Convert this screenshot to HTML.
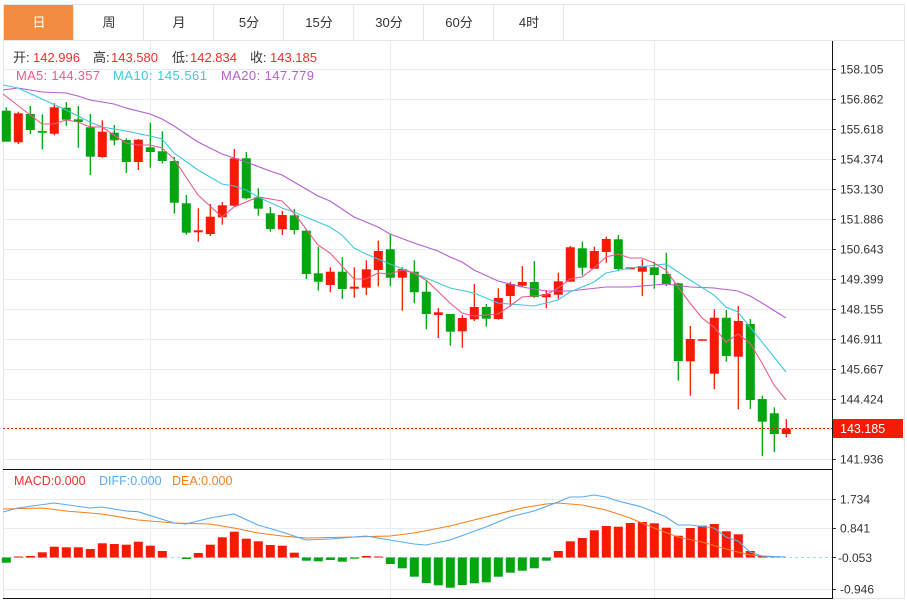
<!DOCTYPE html>
<html><head><meta charset="utf-8"><style>
body{margin:0;background:#fff;width:907px;height:600px;overflow:hidden;font-family:"Liberation Sans","Noto Sans CJK SC",sans-serif}
svg{position:absolute;left:0;top:0}
</style></head><body>
<svg id="s" width="907" height="600" xmlns="http://www.w3.org/2000/svg" font-family="Liberation Sans, Noto Sans CJK SC, sans-serif"></svg>
<script>
var s='';
s+='<rect x="3.5" y="4.5" width="901" height="594" fill="none" stroke="#e3e6ea"/>';
s+='<line x1="3" y1="40.5" x2="905" y2="40.5" stroke="#e3e6ea"/>';
var tabs=['日','周','月','5分','15分','30分','60分','4时'];
for(var i=0;i<8;i++){var x=4+i*70;
 if(i==0)s+='<rect x="4" y="5" width="69" height="35" fill="#f28c43"/>';
 s+='<line x1="'+(x+69.5)+'" y1="5" x2="'+(x+69.5)+'" y2="40" stroke="#e3e6ea"/>';
 s+='<text x="'+(x+35)+'" y="27" text-anchor="middle" font-size="13" fill="'+(i==0?'#fff':'#333')+'">'+tabs[i]+'</text>';}
var ticks=[[69,'158.105'],[99,'156.862'],[129,'155.618'],[159,'154.374'],[189,'153.130'],[219,'151.886'],[249,'150.643'],[279,'149.399'],[309,'148.155'],[339,'146.911'],[369,'145.667'],[399,'144.424'],[459,'141.936']];
ticks.forEach(function(t){s+='<line x1="3" y1="'+(t[0]+.5)+'" x2="832" y2="'+(t[0]+.5)+'" stroke="#e6ecf2"/><line x1="832" y1="'+(t[0]+.5)+'" x2="836" y2="'+(t[0]+.5)+'" stroke="#333"/><text x="840" y="'+(t[0]+4.5)+'" font-size="12" fill="#333">'+t[1]+'</text>';});
[[499,'1.734'],[528,'0.841'],[589,'-0.946']].forEach(function(t){s+='<line x1="3" y1="'+(t[0]+.5)+'" x2="832" y2="'+(t[0]+.5)+'" stroke="#e6ecf2"/><line x1="832" y1="'+(t[0]+.5)+'" x2="836" y2="'+(t[0]+.5)+'" stroke="#333"/><text x="840" y="'+(t[0]+4.5)+'" font-size="12" fill="#333">'+t[1]+'</text>';});
s+='<line x1="832" y1="557.5" x2="836" y2="557.5" stroke="#333"/><text x="838" y="562" font-size="12" fill="#333">-0.053</text>';
[150.5,390.5,654.5].forEach(function(x){s+='<line x1="'+x+'" y1="41" x2="'+x+'" y2="598" stroke="#e6ecf2"/>';});
s+='<line x1="3" y1="469.5" x2="832" y2="469.5" stroke="#111"/><line x1="3" y1="598.5" x2="832" y2="598.5" stroke="#111"/>';
s+='<line x1="832.5" y1="41" x2="832.5" y2="599" stroke="#111"/>';
var c=[[110.7,141.7,107.3,141.7,0],[113.3,142.3,111.7,144,1],[114,130,106,134,0],[131,132.7,114.3,149.3,0],[107.3,133.7,103.3,135.3,1],[107.7,119.7,102,125.7,0],[119.3,122,106,147.7,0],[127.3,156.7,114,175,0],[131.7,157,120.3,157.7,1],[132.7,140.3,125,145.3,0],
[140,162,138.3,173,0],[139.7,162,139,170,1],[147.3,152,122.7,167.7,0],[151.3,161,131.3,163.7,0],[161,202.7,157,213.7,0],[203.3,232.7,195,234.7,0],[230.3,232.3,208.3,241.7,1],[216.7,234,204,236,1],[205.3,217.3,202,224.7,1],[158.3,205.7,149,206.7,1],
[158.3,198.3,152,199.3,0],[197.3,208.7,188.3,215.7,0],[213.3,229,207,231.7,0],[215,229.3,211,235,1],[215.3,230,209,234.3,0],[230.7,274,230,279,0],[273.3,281.7,246.7,290.7,0],[271.7,285,267.3,292.3,1],[271.7,289,257.3,299,0],[286.7,288.7,267.3,297.7,1],
[269.3,287.7,260.3,295,1],[251,270,240.7,286.3,1],[249.3,277.7,233.7,286.3,0],[269,277.7,267.3,310.7,1],[271.7,292.3,260.3,303.3,0],[291.7,314,280,329.3,0],[312.3,315,308,338,1],[314,331.7,314,345.7,0],[318,331.3,315,347.7,1],[307,319.3,284,321,1],
[307,318.7,304,326.7,0],[298,319,288.3,319.7,1],[284,296,282,306.7,1],[282,285.7,266,286.7,1],[282,297,261,298,0],[294,297.3,290,308.3,1],[281.3,294.7,272.7,298.7,1],[247.3,281.7,246,281.7,1],[248.3,267.7,241.7,275.3,0],[251,268.7,246.7,268.7,1],
[239,252,236.7,262.7,1],[239.3,269,235,271.3,0],[267.3,269.3,267.3,269.3,1],[266,271.7,259.3,296,1],[267.3,275,261.7,288.7,0],[274,284,252.7,286,0],[283.3,361,282.7,380.7,0],[339,361.3,326,395.7,1],[339.3,340.7,339.3,340.7,1],[317.7,373.7,309.3,389.3,1],
[317.7,356,310,361.7,0],[321,356.7,306,409.3,1],[324,400,319,409,0],[399,421.7,395.7,456,0],[413.3,434,407.3,452,0],[428.7,434,419,437.3,1]];
var R='#f51a00',G='#00a60c';
c.forEach(function(d,i){var x=6.3+12*i,col=d[4]?R:G;
 s+='<line x1="'+x+'" y1="'+d[2]+'" x2="'+x+'" y2="'+d[3]+'" stroke="'+col+'" stroke-width="1.3"/>';
 s+='<rect x="'+(x-4.5)+'" y="'+d[0]+'" width="9" height="'+Math.max(1.5,d[1]-d[0])+'" fill="'+col+'"/>';});
function pl(p,col){return '<polyline fill="none" stroke="'+col+'" stroke-width="1.1" points="'+p+'"/>';}
s+=pl('3,90 18,88 42,92 66,93 78,96 90,100 114,104 126,108 150,114 162,119 174,126 198,142 222,154 246,162 270,171 282,175 294,182 318,196 330,201 354,217 378,227 390,234 414,243 438,251 450,257 462,262 474,270 498,281 522,287 546,291 570,291 606,287 630,287 666,284 690,287 714,288 738,291 750,296 762,303 786,318','#b55fcf');
s+=pl('3,85 18,88 42,99 66,110 90,122 102,127 126,131 150,136 162,139 174,153 198,170 222,184 234,186 246,190 258,197 282,208 294,212 330,227 342,235 354,248 366,254 390,264 414,273 438,283 450,288 474,293 498,303 534,306 558,300 570,292 594,282 606,273 630,268 666,264 690,280 714,295 726,307 738,312 750,327 786,372','#3fc8df');
s+=pl('3,94 42,124 54,124 66,120 78,122 90,127 102,127 126,143 138,145 150,145 162,148 174,159 198,195 222,217 234,207 258,197 282,201 294,213 318,245 330,253 354,279 366,279 378,273 390,274 402,270 414,273 426,280 450,303 462,313 474,316 498,314 510,306 522,297 546,295 558,288 570,279 582,277 594,268 606,257 618,254 630,258 642,258 654,263 666,270 678,287 690,303 702,318 714,327 726,342 738,334 750,343 762,363 774,385 786,400','#ec5a8c');
s+='<line x1="3" y1="428.5" x2="832" y2="428.5" stroke="#f51a00" stroke-dasharray="2,2"/>';
s+='<rect x="833" y="419" width="70" height="19" fill="#f51a00"/><text x="840" y="433" font-size="12.5" fill="#fff">143.185</text>';
function t(x,y,str,col,fs){s+='<text x="'+x+'" y="'+y+'" font-size="'+(fs||13)+'" fill="'+col+'">'+str+'</text>';}
t(13,62,'开:','#333');t(33,62,'142.996','#f0302a');
t(93,62,'高:','#333');t(111,62,'143.580','#f0302a');
t(172,62,'低:','#333');t(190,62,'142.834','#f0302a');
t(250,62,'收:','#333');t(270,62,'143.185','#f0302a');
s+='<text x="16" y="80" font-size="13" fill="#ec5a8c" textLength="84">MA5: 144.357</text>';
s+='<text x="113" y="80" font-size="13" fill="#3fc8df" textLength="94">MA10: 145.561</text>';
s+='<text x="221" y="80" font-size="13" fill="#b55fcf" textLength="93">MA20: 147.779</text>';
t(14,485,'MACD:0.000','#f0302a',12.5);t(99,485,'DIFF:0.000','#5aa9f0',12.5);t(172,485,'DEA:0.000','#f57f1e',12.5);
s+='<line x1="3" y1="557.5" x2="832" y2="557.5" stroke="#9fdcef" stroke-dasharray="3,3"/>';
var h=[562.7,556.5,556,552.3,546.7,547.3,547.3,549,543.3,544,544.7,541.7,545.7,551,558.3,559,553,544.7,537.3,531.7,538.7,541.3,545,545.7,552.7,560.7,561.3,560,561.7,558.7,556,556.5,564,568.3,576.7,583,585.3,587.7,585,583.3,582.3,576.7,572.7,570.7,568.3,560.7,551,541.3,538,530.3,526,526.7,523,522,523.3,527.7,535.7,528,525.7,524,531.3,534.3,551,556,556.5,557];
h.forEach(function(y,i){var x=6.3+12*i-4.5,z=557.5;if(Math.abs(y-z)<0.8)return;
 if(y<z)s+='<rect x="'+x+'" y="'+y+'" width="9" height="'+(z-y)+'" fill="'+R+'"/>';else s+='<rect x="'+x+'" y="'+z+'" width="9" height="'+(y-z)+'" fill="'+G+'"/>';});
s+=pl('3,509 42,508 66,511 102,514 138,520 174,523 210,524 234,528 258,533 282,536 306,538 354,537 390,536 414,533 450,526 486,517 522,508 546,504 558,503 582,505 606,510 630,518 654,528 678,537 702,542 726,549 750,555 774,557 786,557','#f57f1e');
s+=pl('3,512 18,508 54,503 90,508 102,507 126,511 138,511.7 174,523 186,524 210,518 234,514 258,525 282,532 306,540 330,539 366,536 390,540 414,544 426,545 450,540 486,527 498,522 510,517 534,511 558,502 570,497 582,497 594,495 606,497 618,501 642,507 666,517 678,525 690,525 714,528 726,537 738,541 750,552 762,556 786,557','#5aa9f0');
document.getElementById('s').innerHTML=s;
</script>
</body></html>
